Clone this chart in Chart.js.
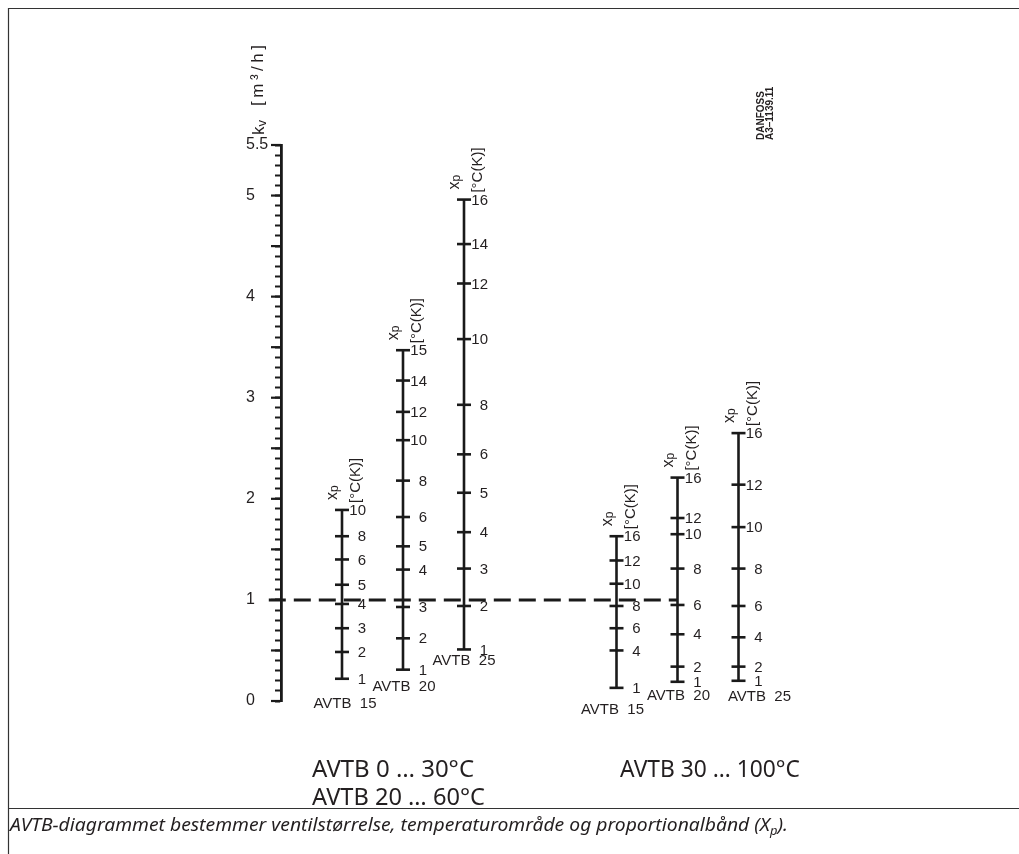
<!DOCTYPE html>
<html><head><meta charset="utf-8">
<script src="https://cdn.jsdelivr.net/npm/chart.js@4"></script>
<style>html,body{margin:0;padding:0;background:#fff;} #wrap{width:1019px;height:854px;position:relative;}</style>
</head><body><div id="wrap"><canvas id="c"></canvas></div>
<script>
// ---------- DATA ----------
const kvMin = 0, kvMax = 5.5;
const kvLabelValues = [0, 1, 2, 3, 4, 5, 5.5];
const kvAxisTitle = ['k', 'v', '[m³/h]'];
const scaleNames = ['AVTB  15', 'AVTB  20', 'AVTB  25', 'AVTB  15', 'AVTB  20', 'AVTB  25'];
const scaleColumns = [1, 2, 3, 5.5, 6.5, 7.5];
// xp tick labels and the kv value each one sits at
const xpA15 = [10, 8, 6, 5, 4, 3, 2, 1];
const kvA15 = [1.89, 1.63, 1.40, 1.15, 0.96, 0.72, 0.485, 0.22];
const xpA20 = [15, 14, 12, 10, 8, 6, 5, 4, 3, 2, 1];
const kvA20 = [3.47, 3.17, 2.86, 2.58, 2.18, 1.82, 1.53, 1.30, 0.93, 0.62, 0.31];
const xpA25 = [16, 14, 12, 10, 8, 6, 5, 4, 3, 2, 1];
const kvA25 = [4.96, 4.52, 4.13, 3.58, 2.93, 2.44, 2.06, 1.67, 1.31, 0.94, 0.51];
const xpB15 = [16, 12, 10, 8, 6, 4, 1];
const kvB15 = [1.63, 1.39, 1.16, 0.94, 0.72, 0.50, 0.13];
const xpB20 = [16, 12, 10, 8, 6, 4, 2, 1];
const kvB20 = [2.21, 1.81, 1.65, 1.31, 0.95, 0.66, 0.34, 0.19];
const xpB25 = [16, 12, 10, 8, 6, 4, 2, 1];
const kvB25 = [2.65, 2.14, 1.72, 1.31, 0.94, 0.63, 0.34, 0.20];
const refKv = 1;
const xpHeader = ['x', 'p', '[°C(K)]'];
const groupLabels = ['AVTB 0 … 30°C', 'AVTB 20 … 60°C', 'AVTB 30 … 100°C'];
const stampLines = ['DANFOSS', 'A3–1139.11'];
const captionParts = ['AVTB-diagrammet bestemmer ventilstørrelse, temperaturområde og proportionalbånd (X', 'p', ').'];

// ---------- STYLE / LAYOUT ----------
const INK = '#1a1a1a';
const TXT = '#231f20';
const kvMinorTicks = [];
for (let i = 0; i <= 55; i++) kvMinorTicks.push(i / 10);
const xpSets = [[xpA15, kvA15], [xpA20, kvA20], [xpA25, kvA25], [xpB15, kvB15], [xpB20, kvB20], [xpB25, kvB25]];
// offsets of the "AVTB nn" name from the bottom of each scale (px)
const nameOffset = [[3, 25], [1, 17], [0, 11], [-4, 22], [1, 14], [21, 16]];
const refStart = -0.2;
const refEnd = scaleColumns[4];

const datasets = [];
xpSets.forEach((pair, i) => {
  const kv = pair[1];
  const lo = Math.min(...kv), hi = Math.max(...kv);
  datasets.push({type: 'line', data: [{x: scaleColumns[i], y: lo}, {x: scaleColumns[i], y: hi}],
    borderColor: INK, borderWidth: 2.6, pointRadius: 0, fill: false, clip: false});
  datasets.push({type: 'scatter', data: kv.map(v => ({x: scaleColumns[i], y: v})),
    pointStyle: 'line', pointRadius: 7, pointBorderWidth: 2.6, pointBorderColor: INK,
    pointBackgroundColor: INK, clip: false});
});
datasets.push({type: 'line', data: [{x: refStart, y: refKv}, {x: refEnd, y: refKv}],
  borderColor: INK, borderWidth: 3, borderDash: [17, 8], pointRadius: 0, fill: false, clip: false});

function rotText(ctx, text, x, y, font, dyRot) {
  ctx.save();
  ctx.font = font;
  ctx.translate(x, y);
  ctx.rotate(-Math.PI / 2);
  ctx.textAlign = 'left';
  ctx.textBaseline = 'middle';
  ctx.fillText(text, 0, dyRot || 0);
  const w = ctx.measureText(text).width;
  ctx.restore();
  return w;
}

const drawPlugin = {
  id: 'nomogram',
  beforeDraw(chart) {
    const ctx = chart.ctx;
    ctx.save();
    ctx.strokeStyle = '#333';
    ctx.lineWidth = 1.2;
    ctx.beginPath();
    ctx.moveTo(8.5, 854); ctx.lineTo(8.5, 8.5); ctx.lineTo(1019, 8.5);
    ctx.moveTo(8.5, 808.5); ctx.lineTo(1019, 808.5);
    ctx.stroke();
    ctx.restore();
  },
  afterDraw(chart) {
    const ctx = chart.ctx;
    const xs = chart.scales.x, ys = chart.scales.y;
    const left = chart.chartArea.left;
    ctx.save();
    // longer ticks on the kv axis at whole and half values
    ctx.strokeStyle = INK; ctx.lineWidth = 2.2;
    kvMinorTicks.forEach(v => {
      if (Math.abs(v * 2 - Math.round(v * 2)) < 1e-9) {
        const py = ys.getPixelForValue(v);
        ctx.beginPath(); ctx.moveTo(left - 10, py); ctx.lineTo(left, py); ctx.stroke();
      }
    });
    ctx.fillStyle = TXT;
    // kv axis title
    let yy = ys.getPixelForValue(kvMax) - 10;
    let w = rotText(ctx, kvAxisTitle[0], 259, yy, '17px "Liberation Sans"');
    yy -= w;
    w = rotText(ctx, kvAxisTitle[1], 262, yy, '13px "Liberation Sans"');
    yy -= w + 14;
    ctx.save(); ctx.letterSpacing = '3.5px';
    rotText(ctx, kvAxisTitle[2], 258, yy, '17px "Liberation Sans"');
    ctx.restore();
    // xp scales: labels, headers, names
    xpSets.forEach((pair, i) => {
      const xp = pair[0], kv = pair[1];
      const X = xs.getPixelForValue(scaleColumns[i]);
      ctx.font = '15px "Liberation Sans"';
      ctx.textAlign = 'right'; ctx.textBaseline = 'middle';
      xp.forEach((lab, j) => {
        ctx.fillText(String(lab), X + 24, ys.getPixelForValue(kv[j]) + 1);
      });
      const top = ys.getPixelForValue(Math.max(...kv));
      const bot = ys.getPixelForValue(Math.min(...kv));
      let y0 = top - 10;
      const wx = rotText(ctx, xpHeader[0], X - 9, y0, '16px "Liberation Sans"');
      rotText(ctx, xpHeader[1], X - 7, y0 - wx, '12px "Liberation Sans"');
      rotText(ctx, xpHeader[2], X + 14, top - 7, '15px "Liberation Sans"');
      ctx.font = '15px "Liberation Sans"';
      ctx.textAlign = 'center'; ctx.textBaseline = 'middle';
      ctx.fillText(scaleNames[i], X + nameOffset[i][0], bot + nameOffset[i][1]);
    });
    // stamp
    rotText(ctx, stampLines[0], 761, 140, 'bold 10px "Liberation Sans"');
    rotText(ctx, stampLines[1], 770, 140, 'bold 10px "Liberation Sans"');
    // group labels
    ctx.textAlign = 'left'; ctx.textBaseline = 'alphabetic';
    ctx.font = '24px "Noto Sans"';
    ctx.fillText(groupLabels[0], 312, 777, 168);
    ctx.fillText(groupLabels[1], 312, 805, 173);
    ctx.fillText(groupLabels[2], 620, 777, 180);
    // caption with subscript
    const fonts = ['italic 18px "Noto Sans"', 'italic 12px "Noto Sans"', 'italic 18px "Noto Sans"'];
    const dys = [0, 4, 0];
    let total = 0; const ws = [];
    captionParts.forEach((t, k) => { ctx.font = fonts[k]; ws[k] = ctx.measureText(t).width; total += ws[k]; });
    const sx = 778 / total;
    ctx.save(); ctx.translate(10, 831); ctx.scale(sx, 1);
    let cx = 0;
    captionParts.forEach((t, k) => { ctx.font = fonts[k]; ctx.fillText(t, cx, dys[k]); cx += ws[k]; });
    ctx.restore();
    ctx.restore();
  }
};

new Chart(document.getElementById('c'), {
  type: 'scatter',
  data: {datasets},
  options: {
    responsive: true, maintainAspectRatio: false, animation: false, events: [],
    layout: {padding: {left: 246, right: 128, top: 145, bottom: 153}},
    plugins: {legend: {display: false}, tooltip: {enabled: false}},
    scales: {
      x: {type: 'linear', display: false, min: 0, max: 10},
      y: {type: 'linear', min: kvMin, max: kvMax, position: 'left',
        afterFit: s => { s.width = 35; },
        afterBuildTicks: s => { s.ticks = kvMinorTicks.map(v => ({value: v})); },
        border: {display: true, color: INK, width: 2.8},
        grid: {drawOnChartArea: false, drawTicks: true, tickLength: 6, tickWidth: 2, tickColor: INK},
        ticks: {autoSkip: false, crossAlign: 'far', padding: 4, color: TXT,
          font: {family: 'Liberation Sans', size: 16},
          callback: v => kvLabelValues.includes(v) ? String(v) : ''}
      }
    }
  },
  plugins: [drawPlugin]
});
</script></body></html>
